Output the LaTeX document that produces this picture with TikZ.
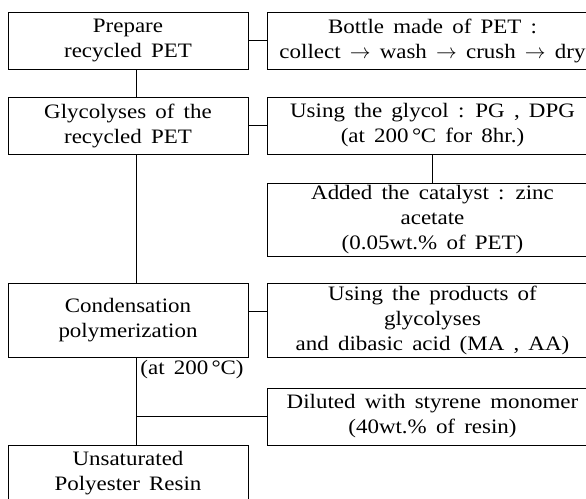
\documentclass[tikz,border=0pt]{standalone}
\usepackage{fontspec}
\setmainfont{Liberation Serif}[FakeStretch=1.12, WordSpace=1.6]
\newcommand{\dC}{\,°\kern-.3pt C}
\tikzset{box/.style={draw, align=center, inner sep=0pt, minimum height=57pt, font=\fontsize{20.5}{25}\selectfont, execute at begin node=\rule{0pt}{22pt}}}
\tikzset{lbox/.style={box, minimum width=240pt}, rbox/.style={box, minimum width=331pt}}

\begin{document}
\begin{tikzpicture}[x=1pt, y=-1pt, line width=.9pt]
    \useasboundingbox(0, 0)rectangle(586, 498);
    \clip(0, 0)rectangle(586, 498);
    \coordinate(trunk)at(136, 0);
    \node[lbox](prep)at(128, 40.5){Prepare\\recycled PET};
    \node[rbox](bottle)at(432.5, 40.5){Bottle made of PET :\\collect $\rightarrow$ wash $\rightarrow$ crush $\rightarrow$ dry};
    \node[lbox](glyc)at(128, 125.5){Glycolyses of the\\recycled PET};
    \node[rbox](glycol)at(432.5, 125.5){Using the glycol : PG , DPG\\(at 200\dC\ for 8hr.)};
    \node[rbox, minimum height=73pt](cat)at(432.5, 219.5){Added the catalyst : zinc\\acetate\\(0.05wt.\% of PET)};
    \node[lbox, minimum height=74pt](cond)at(128, 320){Condensation\\polymerization};
    \node[rbox, minimum height=74pt](prod)at(432.5, 320){Using the products of\\glycolyses\\and dibasic acid (MA , AA)};
    \node[right, inner sep=2pt, font=\fontsize{20.5}{25}\selectfont](temp)at(138, 370){(at 200\dC)};
    \node[rbox](dil)at(432.5, 416.5){Diluted with styrene monomer\\(40wt.\% of resin)};
    \node[lbox](unsat)at(128, 473.5){Unsaturated\\Polyester Resin};
    \draw(prep.east)--(bottle.west);
    \draw(glyc.east)--(glycol.west);
    \draw(glycol.south)--(cat.north);
    \draw([yshift=9pt]cond.east)--([yshift=9pt]prod.west);
    \draw(prep.south -| trunk)--(glyc.north -| trunk);
    \draw(glyc.south -| trunk)--(cond.north -| trunk);
    \draw(cond.south -| trunk)--(unsat.north -| trunk);
    \draw(dil.west -| trunk)--(dil.west);
\end{tikzpicture}
\end{document}
